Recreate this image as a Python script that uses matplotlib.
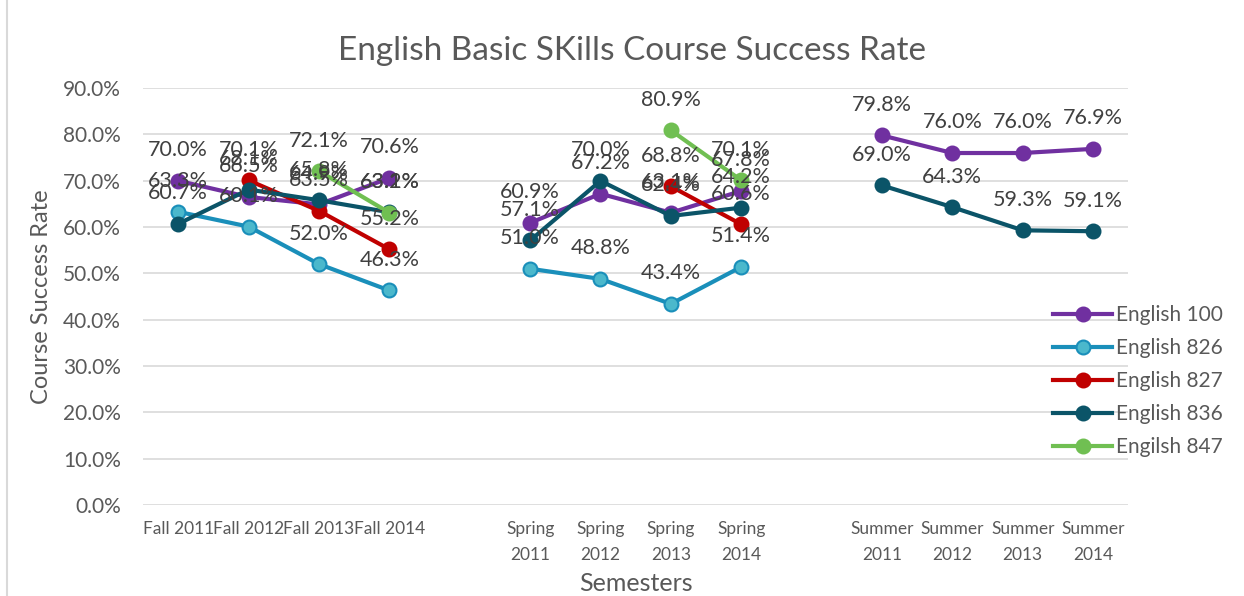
import matplotlib

matplotlib.use("Agg")
import matplotlib.pyplot as plt
import numpy as np

nan = np.nan

# --- data ----------------------------------------------------------------------------
semesters = ["Fall 2011", "Fall 2012", "Fall 2013", "Fall 2014", "",
             "Spring\n2011", "Spring\n2012", "Spring\n2013", "Spring\n2014", "",
             "Summer\n2011", "Summer\n2012", "Summer\n2013", "Summer\n2014"]
eng100 = [70.0, 66.5, 64.9, 70.6, nan, 60.9, 67.2, 63.1, 67.8, nan, 79.8, 76.0, 76.0, 76.9]
eng826 = [63.3, 60.1, 52.0, 46.3, nan, 51.0, 48.8, 43.4, 51.4, nan, nan, nan, nan, nan]
eng827 = [nan, 70.1, 63.5, 55.2, nan, nan, nan, 68.8, 60.6, nan, nan, nan, nan, nan]
eng836 = [60.7, 68.1, 65.8, 63.2, nan, 57.1, 70.0, 62.4, 64.2, nan, 69.0, 64.3, 59.3, 59.1]
eng847 = [nan, nan, 72.1, 63.1, nan, nan, nan, 80.9, 70.1, nan, nan, nan, nan, nan]

series = [
    ("English 100", eng100, "#7030A0", "#7030A0"),
    ("English 826", eng826, "#1A8FBA", "#4BB8CC"),
    ("English 827", eng827, "#C00000", "#C00000"),
    ("English 836", eng836, "#0B5468", "#0B5468"),
    ("Engilsh 847", eng847, "#70BF52", "#70BF52"),
]

TXT = "#595959"
plt.rcParams["font.family"] = ["Lato", "DejaVu Sans"]

fig = plt.figure(figsize=(12.44, 5.96), dpi=100)
ax = fig.add_axes([0.115, 0.153, 0.792, 0.699])

x = np.arange(len(semesters))
for name, vals, col, face in series:
    v = np.array(vals, dtype=float)
    ax.plot(x, v, color=col, lw=3, marker="o", ms=10, mfc=face, mec=col, mew=1.5,
            label=name, zorder=3)
    for xi, yi in zip(x, v):
        if not np.isnan(yi):
            ax.annotate(f"{yi:.1f}%", (xi, yi), xytext=(0, 22), textcoords="offset points",
                        ha="center", va="center", fontsize=15.5, color="#404040", zorder=4)

ax.set_xlim(-0.5, len(semesters) - 0.5)
ax.set_ylim(0, 90)
ax.set_yticks(np.arange(0, 91, 10))
ax.set_yticklabels([f"{t:.1f}%" for t in np.arange(0, 91, 10)])
ax.set_xticks(x)
ax.set_xticklabels(semesters, fontsize=12.5, color=TXT, linespacing=1.75)
ax.tick_params(axis="y", length=0, pad=16, labelsize=15, labelcolor=TXT)
ax.tick_params(axis="x", length=0, pad=12)
ax.grid(axis="y", color="#D9D9D9", lw=1.2, zorder=0)
for s in ax.spines.values():
    s.set_visible(False)

ax.set_xlabel("Semesters", fontsize=18, color=TXT, labelpad=6)
ax.set_ylabel("Course Success Rate", fontsize=17, color=TXT, labelpad=8)
fig.text(0.508, 0.915, "English Basic SKills Course Success Rate", ha="center", va="center",
         fontsize=24, color=TXT)

ax.legend(loc="center left", bbox_to_anchor=(1043 / 1244, 1 - 381 / 596),
          bbox_transform=fig.transFigure, frameon=False, fontsize=15, handlelength=2.8,
          handletextpad=0.2, labelspacing=0.62, borderpad=0, labelcolor=TXT)

fig.patches.append(plt.Rectangle((0.006, -0.01), 1.2, 1.2, transform=fig.transFigure,
                                 fill=False, ec="#D9D9D9", lw=1.5))

fig.savefig("out.png", dpi=100)
